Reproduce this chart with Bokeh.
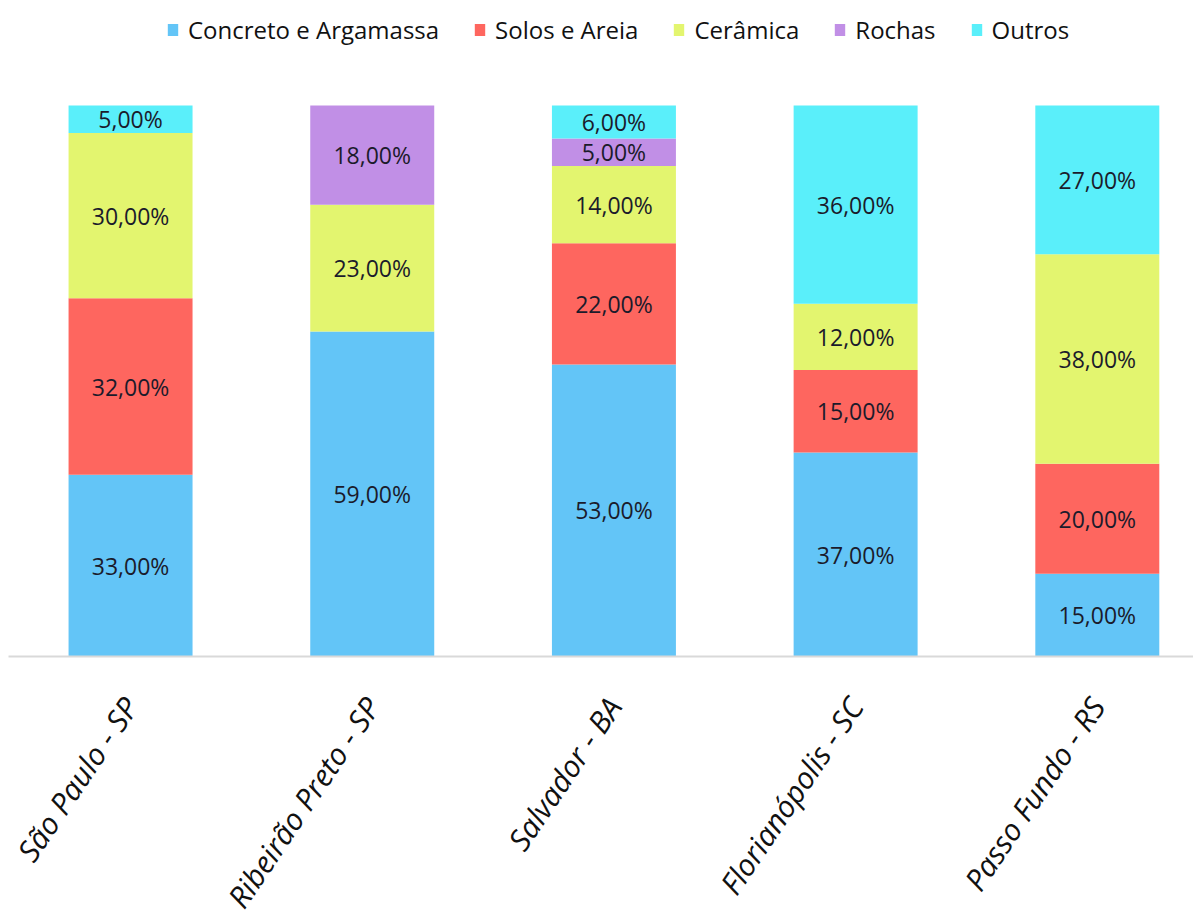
from bokeh.plotting import figure
from bokeh.models import ColumnDataSource, Range1d, Legend, FixedTicker, LabelSet
from bokeh.core.properties import value
from bokeh.embed import file_html
from bokeh.resources import INLINE
import math

cities = ["São Paulo - SP", "Ribeirão Preto - SP", "Salvador - BA", "Florianópolis - SC", "Passo Fundo - RS"]
series = ["Concreto e Argamassa", "Solos e Areia", "Cerâmica", "Rochas", "Outros"]
concreto = [33, 59, 53, 37, 15]
solos = [32, 0, 22, 15, 20]
ceramica = [30, 23, 14, 12, 38]
rochas = [0, 18, 5, 0, 0]
outros = [5, 0, 6, 36, 27]
colors = ["#63C5F7", "#FE665F", "#E3F56F", "#C18FE6", "#5AEFFA"]

FONT = "Open Sans"

xs = list(range(len(cities)))
keys = ["c", "s", "ce", "r", "o"]
vals = [concreto, solos, ceramica, rochas, outros]
data = {"x": xs}
for k, v in zip(keys, vals):
    data[k] = v
src = ColumnDataSource(data)

p = figure(frame_width=1185, frame_height=648, output_backend="svg", toolbar_location=None,
           x_range=Range1d(-0.505, 4.398), y_range=Range1d(0, 117.6),
           min_border_left=8, min_border_right=0, min_border_top=8, min_border_bottom=0)
p.outline_line_color = None
p.grid.visible = False
p.yaxis.visible = False

rs = p.vbar_stack(keys, x="x", width=0.513, source=src, color=colors, line_color=None)

# data labels
lx, ly, lt = [], [], []
for i in xs:
    base = 0
    for v in vals:
        val = v[i]
        if val > 0:
            lx.append(i)
            ly.append(base + val / 2)
            lt.append(f"{val:.2f}".replace(".", ",") + "%")
        base += val
lsrc = ColumnDataSource(dict(x=lx, y=ly, t=lt))
p.add_layout(LabelSet(x="x", y="y", text="t", source=lsrc, text_align="center",
                      text_baseline="middle", text_font=value(FONT), text_font_size=value("23px"),
                      text_color=value("#1b1b2b")))

ax = p.xaxis[0]
ax.ticker = FixedTicker(ticks=xs)
ax.major_label_overrides = {i: c for i, c in enumerate(cities)}
ax.major_label_orientation = math.radians(56)
ax.major_label_text_font = FONT
ax.major_label_text_font_style = "italic"
ax.major_label_text_font_size = "30px"
ax.major_label_text_color = "#111111"
ax.major_label_standoff = 38
ax.major_tick_line_color = None
ax.minor_tick_line_color = None
ax.axis_line_color = "#d9d9d9"
ax.axis_line_width = 2

legend = Legend(items=[(s, [r]) for s, r in zip(series, rs)], orientation="horizontal",
                location=(158, 610), label_text_font=FONT, label_text_font_size="24px",
                label_text_color="#111111", glyph_width=13, glyph_height=15,
                label_standoff=9, spacing=34, padding=2, margin=0,
                background_fill_alpha=0, border_line_color=None)
p.add_layout(legend)

open("out.html", "w").write(file_html(p, INLINE))
